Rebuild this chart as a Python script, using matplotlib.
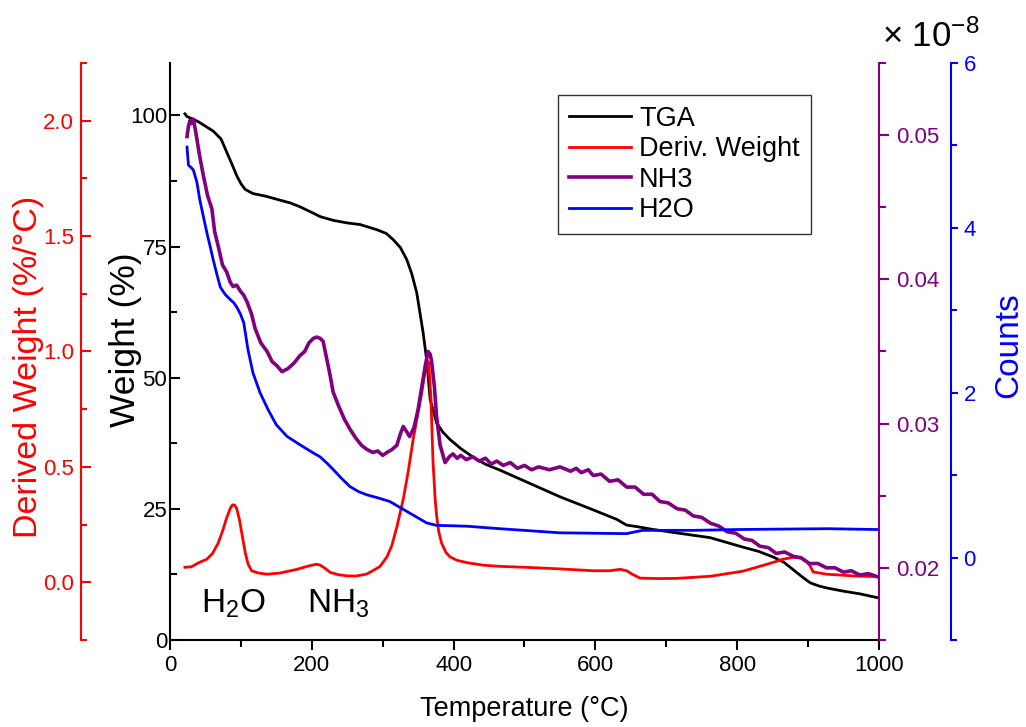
import matplotlib
matplotlib.use('Agg')
import matplotlib.pyplot as plt
from matplotlib.ticker import MultipleLocator, FormatStrFormatter

plt.rcParams['font.family'] = ['Liberation Sans', 'DejaVu Sans']
plt.rcParams['mathtext.fontset'] = 'custom'
plt.rcParams['mathtext.rm'] = 'Liberation Sans'
plt.rcParams['mathtext.it'] = 'Liberation Sans:italic'
plt.rcParams['mathtext.bf'] = 'Liberation Sans:bold'

# TGA weight (%)
t_tga = [21, 24, 40, 61, 72, 80, 88, 94.5, 100, 106, 117, 135, 151, 170, 183,
         200, 212, 230, 250, 268, 292, 305, 315, 325, 334, 341, 348, 357, 362,
         367, 376, 385, 395, 410, 427, 445, 465, 500, 550, 597, 630, 644, 659,
         680, 705, 762, 808, 830, 851, 866, 879, 892, 903, 915, 927, 950, 973,
         1000]
w_tga = [100.3, 99.8, 98.8, 97.0, 95.5, 93.0, 90.5, 88.4, 87.0, 85.9, 85.1,
         84.6, 84.0, 83.3, 82.6, 81.5, 80.7, 80.0, 79.5, 79.2, 78.2, 77.5, 76.3,
         74.8, 72.5, 69.8, 66.2, 58.6, 53.4, 45.8, 41.4, 39.6, 38.2, 36.5, 34.9,
         33.5, 32.4, 30.3, 27.3, 24.8, 23.0, 21.9, 21.6, 21.1, 20.6, 19.5, 17.7,
         16.9, 15.8, 14.8, 13.4, 12.0, 10.9, 10.3, 9.9, 9.3, 8.8, 8.0]

# derivative weight (%/C)
t_dw = [21, 30, 42, 52, 60, 68, 75, 80, 85, 88, 91, 94, 98, 102, 106, 110, 115,
        125, 137, 155, 170, 179, 190, 200, 207, 212, 218, 226, 237, 249, 262,
        277, 286, 296, 306, 313, 320, 329, 336, 343, 349, 355, 358, 361, 363,
        365, 368, 371, 374, 376, 379, 383, 389, 395, 405, 419, 442, 465, 500,
        550, 597, 620, 635, 644, 652, 663, 690, 715, 762, 808, 842, 865, 879,
        890, 898, 903, 907, 926, 973, 1000]
dw = [0.065, 0.067, 0.087, 0.10, 0.125, 0.17, 0.23, 0.28, 0.32, 0.335, 0.335,
      0.32, 0.27, 0.20, 0.13, 0.08, 0.05, 0.04, 0.035, 0.04, 0.05, 0.056, 0.066,
      0.074, 0.078, 0.074, 0.062, 0.043, 0.033, 0.028, 0.027, 0.035, 0.05,
      0.068, 0.11, 0.16, 0.24, 0.36, 0.48, 0.62, 0.72, 0.82, 0.88, 0.93, 0.96,
      0.95, 0.80, 0.52, 0.36, 0.29, 0.22, 0.17, 0.13, 0.11, 0.095, 0.085,
      0.074, 0.069, 0.065, 0.058, 0.05, 0.05, 0.056, 0.05, 0.035, 0.018, 0.016,
      0.017, 0.026, 0.048, 0.078, 0.10, 0.108, 0.105, 0.09, 0.07, 0.045, 0.035,
      0.026, 0.025]

# NH3 signal (noisy trace, read point by point)
t_nh3 = [24, 26, 28, 30, 33, 36, 38, 42, 47, 53, 59, 63, 68, 74, 80, 85, 89,
         94, 99, 104, 109, 115, 120, 128, 137, 144, 151, 158, 166, 175, 183,
         190, 196, 202, 207, 212, 216, 221, 226, 230, 238, 246, 254, 262, 270,
         278, 286, 293, 300, 306, 313, 320, 325, 329, 333, 338, 344, 350, 355,
         360, 364, 367, 369, 373, 376, 381, 388, 394, 399, 405, 410, 418, 427,
         436, 445, 453, 461, 470, 480, 490, 500, 510, 520, 535, 550, 565, 573,
         580, 590, 597, 608, 620, 632, 644, 656, 668, 680, 691, 703, 715, 727,
         738, 750, 762, 774, 786, 798, 810, 821, 832, 844, 855, 867, 879, 890,
         902, 914, 926, 938, 950, 961, 973, 985, 997]
nh3 = [0.0499, 0.0506, 0.0510, 0.0508, 0.0511, 0.0503, 0.0497, 0.0485, 0.0472,
       0.0458, 0.0449, 0.0433, 0.0423, 0.0410, 0.0405, 0.0398, 0.0395, 0.0396,
       0.0392, 0.0389, 0.0384, 0.0376, 0.0366, 0.0356, 0.0350, 0.0343, 0.0340,
       0.0336, 0.0338, 0.0342, 0.0347, 0.0350, 0.0356, 0.0359, 0.0360, 0.0359,
       0.0357, 0.0345, 0.0333, 0.0322, 0.0312, 0.0303, 0.0296, 0.0290, 0.0285,
       0.0282, 0.0280, 0.0281, 0.0278, 0.0280, 0.0282, 0.0285, 0.0293, 0.0298,
       0.0295, 0.0291, 0.0297, 0.0310, 0.0325, 0.0340, 0.0350, 0.0348, 0.0343,
       0.0325, 0.0305, 0.0285, 0.0273, 0.0277, 0.0279, 0.0276, 0.0278, 0.0275,
       0.0277, 0.0274, 0.0276, 0.0272, 0.0274, 0.0271, 0.0273, 0.0269, 0.0271,
       0.0268, 0.0270, 0.0268, 0.0270, 0.0267, 0.0269, 0.0266, 0.0268, 0.0264,
       0.0265, 0.0260, 0.0261, 0.0256, 0.0256, 0.0251, 0.0251, 0.0246, 0.0245,
       0.0241, 0.0240, 0.0236, 0.0235, 0.0231, 0.0229, 0.0225, 0.0224, 0.0220,
       0.0219, 0.0215, 0.0214, 0.0210, 0.0211, 0.0208, 0.0207, 0.0203, 0.0203,
       0.0200, 0.0200, 0.0197, 0.0198, 0.0195, 0.0196, 0.0194]

# H2O counts (x 1e-8)
t_h2o = [24, 26, 30, 33, 38, 42, 47, 52, 57, 61, 66, 71, 78, 85, 90, 94, 99,
         104, 110, 117, 127, 138, 150, 165, 183, 200, 212, 222, 230, 242, 254,
         266, 278, 295, 310, 322, 334, 348, 362, 376, 400, 419, 465, 550, 644,
         655, 667, 700, 738, 800, 927, 997]
h2o = [4.98, 4.76, 4.73, 4.70, 4.55, 4.34, 4.14, 3.94, 3.76, 3.61, 3.44, 3.28,
       3.19, 3.13, 3.09, 3.04, 2.96, 2.85, 2.52, 2.24, 2.0, 1.8, 1.61, 1.47,
       1.37, 1.28, 1.22, 1.14, 1.07, 0.96, 0.86, 0.80, 0.76, 0.72, 0.68, 0.62,
       0.56, 0.49, 0.42, 0.39, 0.385, 0.38, 0.35, 0.30, 0.29, 0.31, 0.33, 0.33,
       0.33, 0.34, 0.35, 0.34]

RED = '#ff0000'
PURPLE = '#800080'
BLUE = '#0000ff'
TICK_FS = 16

fig = plt.figure(figsize=(10.26, 7.27), dpi=100)
ax = fig.add_axes([0.1657, 0.1197, 0.6910, 0.7937])

# main axis: weight
l_tga, = ax.plot(t_tga, w_tga, color='k', lw=2.0, label='TGA')
ax.set_xlim(0, 1000)
ax.set_ylim(0, 110)
ax.spines['top'].set_visible(False)
ax.spines['right'].set_visible(False)
for s in ['left', 'bottom']:
    ax.spines[s].set_linewidth(1.5)
ax.xaxis.set_major_locator(MultipleLocator(200))
ax.xaxis.set_minor_locator(MultipleLocator(100))
ax.yaxis.set_major_locator(MultipleLocator(25))
ax.yaxis.set_minor_locator(MultipleLocator(12.5))
ax.tick_params(axis='x', which='both', direction='out', width=1.5,
               labelsize=TICK_FS, pad=4)
ax.tick_params(axis='x', which='major', length=7)
ax.tick_params(axis='x', which='minor', length=5)
ax.tick_params(axis='y', which='both', direction='in', width=1.5,
               labelsize=TICK_FS, pad=2)
ax.tick_params(axis='y', which='major', length=7)
ax.tick_params(axis='y', which='minor', length=5)
ax.set_xlabel('Temperature (°C)', fontsize=19.5)
ax.xaxis.set_label_coords(0.5, -0.097)
ax.set_ylabel('Weight (%)', fontsize=25.5)
ax.yaxis.set_label_coords(-0.04, 0.52)

# derivative weight, outer left
ax_d = ax.twinx()
l_d, = ax_d.plot(t_dw, dw, color=RED, lw=2.0, label='Deriv. Weight')
ax_d.set_ylim(-0.25, 2.25)
for s in ['top', 'right', 'bottom']:
    ax_d.spines[s].set_visible(False)
ax_d.spines['left'].set_visible(True)
ax_d.spines['left'].set_position(('axes', -0.1255))
ax_d.spines['left'].set_color(RED)
ax_d.spines['left'].set_linewidth(1.5)
ax_d.yaxis.tick_left()
ax_d.yaxis.set_label_position('left')
ax_d.yaxis.set_major_locator(MultipleLocator(0.5))
ax_d.yaxis.set_minor_locator(MultipleLocator(0.25))
ax_d.yaxis.set_major_formatter(FormatStrFormatter('%.1f'))
ax_d.tick_params(axis='y', which='both', direction='in', color=RED,
                 labelcolor=RED, width=1.5, labelsize=TICK_FS, pad=5)
ax_d.tick_params(axis='y', which='major', length=7)
ax_d.tick_params(axis='y', which='minor', length=4)
ax_d.set_ylabel('Derived Weight (%/°C)', fontsize=24.5, color=RED)
ax_d.yaxis.set_label_coords(-0.178, 0.473)

# NH3, right
ax_n = ax.twinx()
l_n, = ax_n.plot(t_nh3, nh3, color=PURPLE, lw=2.6, label='NH3')
ax_n.set_ylim(0.015, 0.055)
for s in ['top', 'left', 'bottom']:
    ax_n.spines[s].set_visible(False)
ax_n.spines['right'].set_color(PURPLE)
ax_n.spines['right'].set_linewidth(1.5)
ax_n.yaxis.set_major_locator(MultipleLocator(0.01))
ax_n.yaxis.set_minor_locator(MultipleLocator(0.005))
ax_n.yaxis.set_major_formatter(FormatStrFormatter('%.2f'))
ax_n.tick_params(axis='y', which='both', direction='out', color=PURPLE,
                 labelcolor=PURPLE, width=1.5, labelsize=TICK_FS, pad=5)
ax_n.tick_params(axis='y', which='major', length=7)
ax_n.tick_params(axis='y', which='minor', length=5)

# H2O counts, outer right
ax_h = ax.twinx()
l_h, = ax_h.plot(t_h2o, h2o, color=BLUE, lw=2.0, label='H2O')
ax_h.set_ylim(-1, 6)
for s in ['top', 'left', 'bottom']:
    ax_h.spines[s].set_visible(False)
ax_h.spines['right'].set_position(('axes', 1.1016))
ax_h.spines['right'].set_color(BLUE)
ax_h.spines['right'].set_linewidth(1.5)
ax_h.yaxis.set_major_locator(MultipleLocator(2))
ax_h.yaxis.set_minor_locator(MultipleLocator(1))
ax_h.tick_params(axis='y', which='both', direction='out', color=BLUE,
                 labelcolor=BLUE, width=1.5, labelsize=TICK_FS, pad=4)
ax_h.tick_params(axis='y', which='major', length=5)
ax_h.tick_params(axis='y', which='minor', length=4)
ax_h.set_ylabel('Counts', fontsize=24, color=BLUE)
ax_h.yaxis.set_label_coords(1.161, 0.511)

fig.text(931 / 1026, 1 - 37 / 727, r'$\times\ 10^{-8}$', ha='center',
         va='center', fontsize=25)

ax.text(90, 5.3, r'$\mathregular{H_2O}$', ha='center', va='baseline',
        fontsize=24)
ax.text(237, 5.3, r'$\mathregular{NH_3}$', ha='center', va='baseline',
        fontsize=24)

leg = ax_h.legend(handles=[l_tga, l_d, l_n, l_h], loc='upper left',
                  bbox_to_anchor=(0.547, 0.945), fontsize=19.5,
                  frameon=True, fancybox=False, handlelength=2.3,
                  handletextpad=0.3, labelspacing=0.17, borderpad=0.4,
                  borderaxespad=0)
leg.get_frame().set_edgecolor('k')
leg.get_frame().set_linewidth(1.0)

fig.savefig('out.png', dpi=100)
